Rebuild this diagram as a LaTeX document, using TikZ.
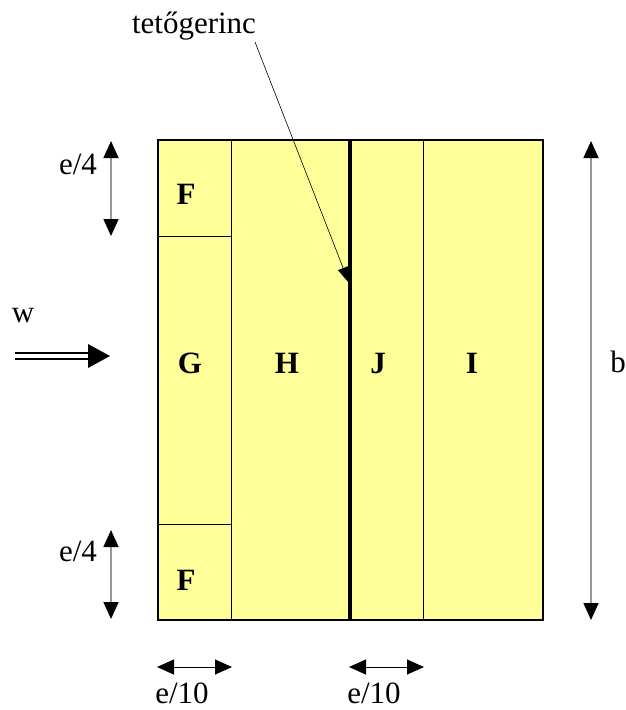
\documentclass[tikz,border=0pt]{standalone}
\usepackage{fontspec}
\setmainfont{Liberation Serif}
\usetikzlibrary{arrows.meta}
\definecolor{zone}{HTML}{FFFF99}
\definecolor{dimgray}{HTML}{999999}
\tikzset{
  lbl/.style={font=\fontsize{31}{37}\selectfont, inner sep=0pt},
  zl/.style={font=\fontsize{31}{37}\selectfont\bfseries, inner sep=0pt},
  dim/.style={draw=dimgray, line width=1.5pt, {Triangle[color=black,length=17pt,width=15pt]}-{Triangle[color=black,length=17pt,width=15pt]}},
  hdim/.style={draw=black, line width=1pt, {Triangle[color=black,length=17pt,width=15pt]}-{Triangle[color=black,length=17pt,width=15pt]}},
  thin/.style={draw=black, line width=0.8pt},
}
\begin{document}
\begin{tikzpicture}[x=1pt,y=-1pt]
\useasboundingbox (0,0) rectangle (626,710);
% roof
\fill[zone] (158,140) rectangle (543,620);
\coordinate (c1t) at (231,140); \coordinate (c1b) at (231,620);
\coordinate (rt) at (350,140); \coordinate (rb) at (350,620);
\coordinate (c3t) at (423,140); \coordinate (c3b) at (423,620);
\coordinate (h1l) at (158,236); \coordinate (h1r) at (231,236);
\coordinate (h2l) at (158,524); \coordinate (h2r) at (231,524);
\draw[thin] (c1t) -- (c1b);
\draw[thin] (c3t) -- (c3b);
\draw[thin] (h1l) -- (h1r);
\draw[thin] (h2l) -- (h2r);
\draw[line width=4pt] (rt) -- (rb);
\draw[line width=2pt] (158,140) rectangle (543,620);
% zone labels
\node[zl] (F1) at (186,194) {F};
\node[zl] (F2) at (186,580) {F};
\node[zl] (G) at (190,363) {G};
\node[zl] (H) at (287,363) {H};
\node[zl] (J) at (378,363) {J};
\node[zl] (I) at (472,363) {I};
% dimensions
\coordinate (d1a) at (111,141); \coordinate (d1b) at (111,236);
\coordinate (d2a) at (111,530); \coordinate (d2b) at (111,619);
\coordinate (bA) at (591,141); \coordinate (bB) at (591,620);
\coordinate (e1a) at (157,667); \coordinate (e1b) at (232,667);
\coordinate (e2a) at (349,667); \coordinate (e2b) at (424,667);
\draw[dim] (d1a) -- (d1b);
\draw[dim] (d2a) -- (d2b);
\draw[dim] (bA) -- (bB);
\draw[hdim] (e1a) -- (e1b);
\draw[hdim] (e2a) -- (e2b);
\node[lbl] (le1) at (78,164) {e/4};
\node[lbl] (le2) at (78,551) {e/4};
\node[lbl] (lb) at (618,362) {b};
\node[lbl] (l10a) at (182,693) {e/10};
\node[lbl] (l10b) at (374,693) {e/10};
% wind
\node[lbl] (w) at (23,316) {w};
\draw[line width=2pt] (15,352.5) -- (92,352.5);
\draw[line width=2pt] (15,358.5) -- (92,358.5);
\fill (88,344) -- (110,356) -- (88,368) -- cycle;
% ridge annotation
\node[lbl] (tg) at (194,26) {tetőgerinc};
\coordinate (tgs) at (255,42); \coordinate (tge) at (349,283);
\draw[line width=0.6pt, -{Triangle[length=16pt,width=11pt]}] (tgs) -- (tge);
\end{tikzpicture}
\end{document}
